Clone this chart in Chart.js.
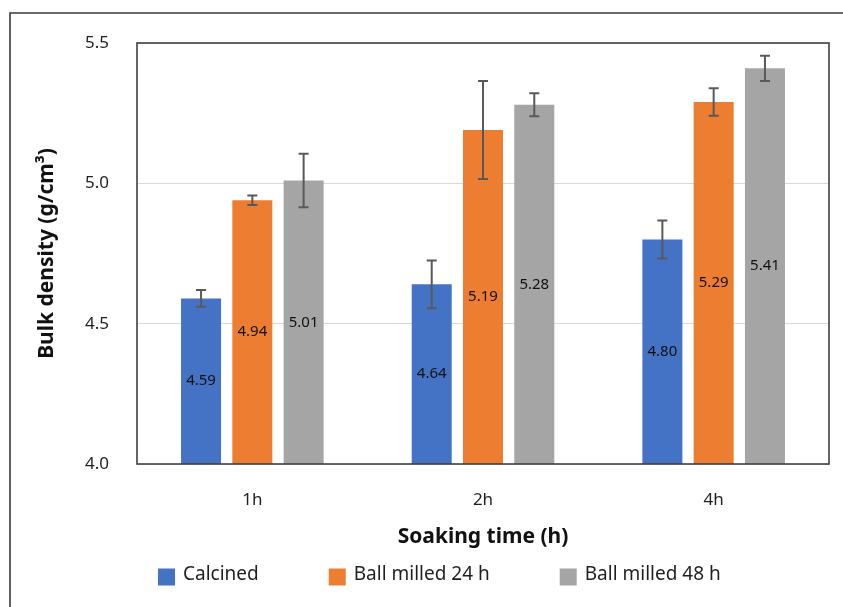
<!DOCTYPE html>
<html>
<head>
<meta charset="utf-8">
<script src="https://cdn.jsdelivr.net/npm/chart.js@4.4.1/dist/chart.umd.min.js"></script>
<style>
  html, body { margin: 0; padding: 0; background: #ffffff; }
  #wrap { position: relative; width: 843px; height: 607px; }
</style>
</head>
<body>
<div id="wrap"><canvas id="c" width="843" height="607"></canvas></div>
<script>
// Bulk density by soaking time for three powder treatments
const categories = ['1h', '2h', '4h'];
const seriesNames = ['Calcined', 'Ball milled 24 h', 'Ball milled 48 h'];
const calcined = [4.59, 4.64, 4.80];
const ballMilled24 = [4.94, 5.19, 5.29];
const ballMilled48 = [5.01, 5.28, 5.41];
// standard deviations shown as error bars
const calcinedErr = [0.03, 0.085, 0.068];
const ballMilled24Err = [0.017, 0.175, 0.049];
const ballMilled48Err = [0.095, 0.041, 0.045];
const yTicks = [4.0, 4.5, 5.0, 5.5];
const seriesColors = ['#4472C4', '#ED7D31', '#A5A5A5'];

const FONT = '"Noto Sans", "DejaVu Sans", sans-serif';
const TEXT = '#1f1f1f';

// thin frame along the top and left edges of the canvas
const outerFrame = {
  id: 'outerFrame',
  beforeDraw(chart) {
    const ctx = chart.ctx;
    ctx.save();
    ctx.strokeStyle = '#3a3a3a';
    ctx.lineWidth = 1.6;
    ctx.beginPath();
    ctx.moveTo(10, chart.height);
    ctx.lineTo(10, 13);
    ctx.lineTo(chart.width, 13);
    ctx.stroke();
    ctx.restore();
  }
};

// error bars with caps, placed through the value scale
const errorBars = {
  id: 'errorBars',
  afterDatasetsDraw(chart) {
    const ctx = chart.ctx;
    const y = chart.scales.y;
    ctx.save();
    ctx.strokeStyle = '#595959';
    ctx.lineWidth = 2;
    chart.data.datasets.forEach((ds, di) => {
      const meta = chart.getDatasetMeta(di);
      meta.data.forEach((bar, i) => {
        const v = ds.data[i], e = ds.errors[i];
        const yTop = y.getPixelForValue(v + e);
        const yBot = y.getPixelForValue(v - e);
        const cap = 5;
        ctx.beginPath();
        ctx.moveTo(bar.x, yTop); ctx.lineTo(bar.x, yBot);
        ctx.moveTo(bar.x - cap, yTop); ctx.lineTo(bar.x + cap, yTop);
        ctx.moveTo(bar.x - cap, yBot); ctx.lineTo(bar.x + cap, yBot);
        ctx.stroke();
      });
    });
    ctx.restore();
  }
};

// value labels centred inside each bar
const valueLabels = {
  id: 'valueLabels',
  afterDatasetsDraw(chart) {
    const ctx = chart.ctx;
    const y = chart.scales.y;
    const basePx = y.getPixelForValue(y.min);
    ctx.save();
    ctx.font = '15px ' + FONT;
    ctx.fillStyle = '#111111';
    ctx.textAlign = 'center';
    ctx.textBaseline = 'middle';
    chart.data.datasets.forEach((ds, di) => {
      const meta = chart.getDatasetMeta(di);
      meta.data.forEach((bar, i) => {
        const v = ds.data[i];
        const mid = (y.getPixelForValue(v) + basePx) / 2;
        ctx.fillText(v.toFixed(2), bar.x, mid);
      });
    });
    ctx.restore();
  }
};

// box around the plot area
const plotFrame = {
  id: 'plotFrame',
  afterDatasetsDraw(chart) {
    const a = chart.chartArea;
    const ctx = chart.ctx;
    ctx.save();
    ctx.strokeStyle = '#404040';
    ctx.lineWidth = 1.6;
    ctx.strokeRect(a.left, a.top, a.right - a.left, a.bottom - a.top);
    ctx.restore();
  }
};

// legend row below the axis title
const legendRow = {
  id: 'legendRow',
  afterDraw(chart, args, opts) {
    const ctx = chart.ctx;
    ctx.save();
    ctx.font = opts.fontSize + 'px ' + FONT;
    ctx.textBaseline = 'middle';
    ctx.textAlign = 'left';
    let x = opts.left;
    chart.data.datasets.forEach(ds => {
      ctx.fillStyle = ds.backgroundColor;
      ctx.fillRect(x, opts.y - opts.box / 2, opts.box, opts.box);
      x += opts.box + opts.textGap;
      ctx.fillStyle = TEXT;
      ctx.fillText(ds.label, x, opts.y - 2);
      x += ctx.measureText(ds.label).width + opts.itemGap;
    });
    ctx.restore();
  }
};

const errSets = [calcinedErr, ballMilled24Err, ballMilled48Err];
const valSets = [calcined, ballMilled24, ballMilled48];

new Chart(document.getElementById('c'), {
  type: 'bar',
  data: {
    labels: categories,
    datasets: seriesNames.map((name, k) => ({
      label: name,
      data: valSets[k],
      errors: errSets[k],
      backgroundColor: seriesColors[k],
      borderWidth: 0,
      categoryPercentage: 0.667,
      barPercentage: 0.78
    }))
  },
  options: {
    responsive: false,
    animation: false,
    devicePixelRatio: 1,
    layout: { padding: { left: 10, right: 14, top: 43, bottom: 50 } },
    plugins: {
      legend: { display: false },
      tooltip: { enabled: false },
      legendRow: { left: 158, y: 577, box: 17, textGap: 8, itemGap: 70, fontSize: 19 }
    },
    scales: {
      x: {
        grid: { display: false },
        border: { display: false },
        ticks: { color: TEXT, font: { family: FONT, size: 17 }, padding: 18 },
        title: {
          display: true, text: 'Soaking time (h)', color: '#111',
          font: { family: FONT, size: 21, weight: 'bold' },
          padding: { top: 0, bottom: 7 }
        },
        afterFit(scale) { scale.height = 93; }
      },
      y: {
        min: 4.0, max: 5.5,
        afterBuildTicks(scale) { scale.ticks = yTicks.map(v => ({ value: v })); },
        grid: { color: '#d9d9d9', lineWidth: 1, drawTicks: false },
        border: { display: false },
        ticks: {
          color: TEXT, font: { family: FONT, size: 17 }, padding: 28,
          callback: v => Number(v).toFixed(1)
        },
        title: {
          display: true, text: 'Bulk density (g/cm³)', color: '#111',
          font: { family: FONT, size: 21, weight: 'bold' },
          padding: { top: 24, bottom: 0 }
        },
        afterFit(scale) { scale.width = 127; }
      }
    }
  },
  plugins: [outerFrame, errorBars, valueLabels, plotFrame, legendRow]
});
</script>
</body>
</html>
